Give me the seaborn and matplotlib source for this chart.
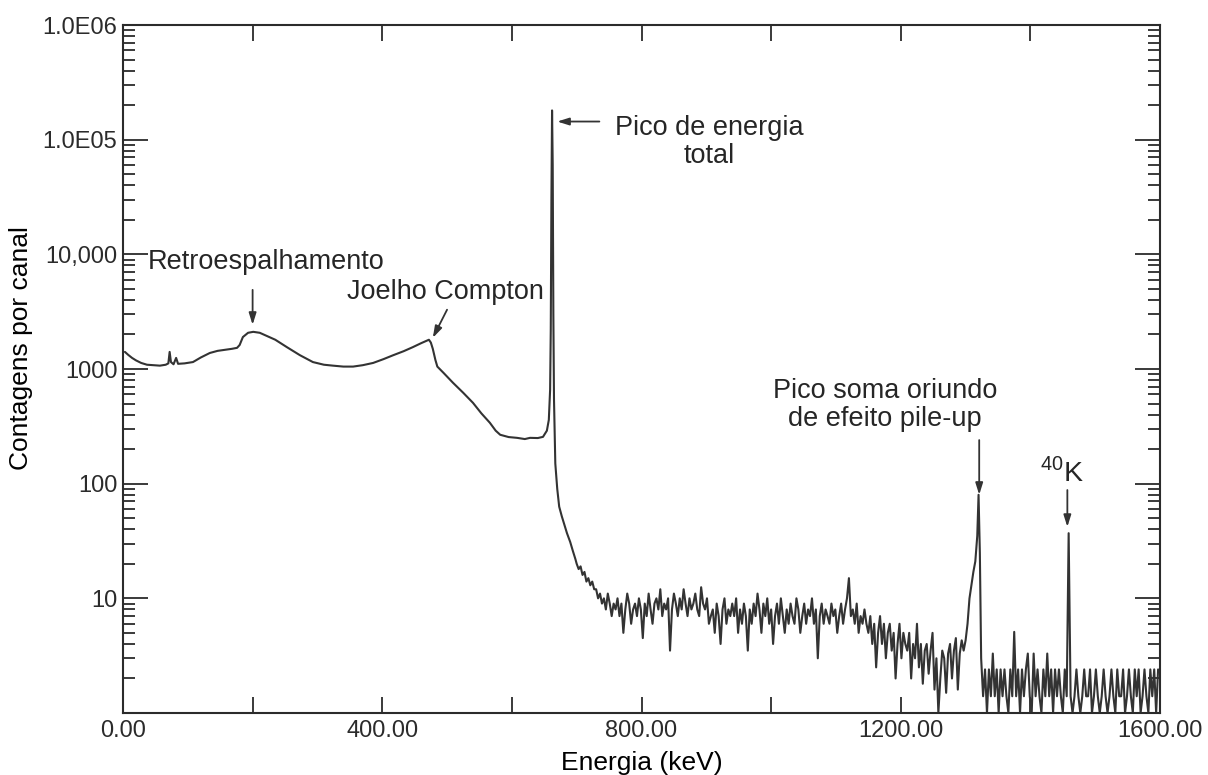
import numpy as np
import pandas as pd
import matplotlib
matplotlib.use("Agg")
import matplotlib.pyplot as plt
import matplotlib.ticker as mticker
import seaborn as sns

# Espectro gama (Cs-137)
# Parte contínua: fundo, retroespalhamento, borda Compton e pico de 662 keV
energia_continuo = [3, 8, 14, 20, 28, 37, 47, 57, 66, 70, 72, 74, 78, 82, 85, 95,
                    108, 120, 134, 146, 157, 168, 176, 180, 185, 193, 201, 211, 222,
                    235, 253, 273, 293, 310, 324, 340, 355, 370, 386, 402, 417, 433,
                    447, 460, 468, 472, 475, 478, 482, 485, 495, 509, 525, 540, 553,
                    566, 575, 582, 595, 608, 620, 628, 640, 648, 654, 657, 659, 660,
                    661, 662, 663, 664, 665, 667, 670, 673, 677, 681, 685, 690, 694, 698]
contagens_continuo = [1410, 1330, 1250, 1190, 1130, 1090, 1080, 1070, 1090, 1120, 1410,
                      1150, 1100, 1250, 1110, 1120, 1150, 1260, 1380, 1440, 1470, 1500,
                      1530, 1620, 1900, 2070, 2110, 2070, 1940, 1800, 1550, 1320, 1150,
                      1090, 1070, 1050, 1050, 1080, 1130, 1220, 1320, 1430, 1550, 1680,
                      1760, 1800, 1700, 1500, 1200, 1050, 920, 760, 620, 507, 410, 340,
                      290, 267, 255, 251, 245, 251, 250, 256, 290, 360, 660, 2200,
                      30000, 180000, 60000, 3000, 540, 150, 90, 63, 52, 44, 37, 31, 26, 22]

# Região ruidosa 700-1297 keV (passo de 3 keV)
contagens_ruido_a = [
    20, 18, 19, 16, 17, 14, 15, 13, 14, 12,
    12, 10, 11, 9, 10, 8, 11, 9, 7, 9,
    8, 10, 7, 9, 5, 8, 11, 9, 6, 8,
    9, 7, 10, 8, 4.5, 9, 7, 11, 8, 6,
    9, 10, 8, 12, 7, 9, 8, 10, 3.5, 8,
    11, 9, 7, 10, 8, 12, 9, 7, 10, 8,
    9, 11, 8, 7, 12.5, 9, 8, 10, 6, 7,
    8, 5, 9, 7, 4, 8, 10, 6, 8, 7,
    9, 7, 10, 5, 8, 6, 9, 7, 3.5, 8,
    6, 9, 7, 11, 8, 5, 9, 7, 10, 6,
    8, 4, 7, 9, 6, 10, 7, 5, 8, 6,
    9, 7, 6, 10, 8, 5, 7, 9, 6, 8,
    7, 10, 6, 8, 3, 7, 9, 6, 8, 7,
    6, 9, 7, 8, 5, 7, 9, 6, 8, 10,
    15, 7, 8, 6, 9, 5, 7, 6, 8, 6,
    5, 7, 4, 6, 2.5, 5, 7, 4, 6, 3,
    5, 6, 3.5, 5, 2, 4, 6, 3, 5, 4,
    3.5, 5, 2, 4, 3, 6, 2.5, 4, 1.8, 3.5,
    4, 2.2, 3.5, 5, 1.6, 3, 1.0, 2, 3.5, 3,
    1.5, 3.3, 4, 2, 3.5, 4.5, 1.6, 3.3, 4.3, 3.5,
]

# Pico soma (pile-up)
energia_soma = [1300, 1303, 1306, 1309, 1312, 1315, 1318, 1320, 1322, 1324]
contagens_soma = [4.3, 6, 10, 13, 17, 21, 35, 80, 25, 3]

# Região 1327-1597 keV (passo de 3 keV), inclui o pico do 40K
contagens_ruido_b = [
    1.4, 2.4, 1.0, 2.4, 1.4, 3.3, 1.4, 2.4, 1.0, 2.4,
    1.4, 2.4, 1.4, 1.0, 2.4, 1.4, 5.1, 1.4, 2.4, 1.0,
    2.4, 1.4, 2.4, 3.3, 1.4, 1.0, 3.3, 1.4, 2.4, 1.4,
    1.0, 2.4, 1.4, 3.3, 1.4, 2.4, 1.0, 2.4, 1.4, 2.4,
    1.4, 1.0, 2.4, 1.4, 37, 1.4, 1.0, 1.4, 2.4, 1.4,
    1.0, 1.4, 2.4, 1.4, 1.4, 2.4, 1.0, 1.4, 2.4, 1.4,
    1.0, 1.4, 2.4, 1.4, 1.0, 1.4, 2.4, 1.4, 1.0, 2.4,
    1.4, 1.4, 2.4, 1.0, 1.4, 2.4, 1.4, 1.0, 2.4, 1.4,
    2.4, 1.0, 1.4, 2.4, 1.4, 1.0, 2.4, 1.4, 2.4, 1.0, 2.4,
]

yticks = [10, 100, 1000, 1e4, 1e5, 1e6]
ytick_labels = ["10", "100", "1000", "10,000", "1.0E05", "1.0E06"]

energia = np.concatenate([energia_continuo,
                          np.arange(700, 700 + 3 * len(contagens_ruido_a), 3),
                          energia_soma,
                          np.arange(1327, 1327 + 3 * len(contagens_ruido_b), 3)])
contagens = np.concatenate([contagens_continuo, contagens_ruido_a,
                            contagens_soma, contagens_ruido_b])
df = pd.DataFrame({"Energia": energia, "Contagens": contagens})

sns.set_style("ticks")
plt.rcParams["font.family"] = ["Liberation Sans", "DejaVu Sans"]
plt.rcParams["mathtext.fontset"] = "custom"
plt.rcParams["mathtext.rm"] = "Liberation Sans"

cor = "#2b2b2b"
fig, ax = plt.subplots(figsize=(12.08, 7.75), dpi=100)
fig.subplots_adjust(left=0.1018, right=0.9603, top=0.9677, bottom=0.08)

sns.lineplot(data=df, x="Energia", y="Contagens", estimator=None, sort=False,
             color="#333333", linewidth=1.5, ax=ax)

ax.set_yscale("log")
ax.set_xlim(0, 1600)
ax.set_ylim(1, 1e6)

ax.xaxis.set_major_locator(mticker.MultipleLocator(400))
ax.xaxis.set_minor_locator(mticker.MultipleLocator(200))
ax.xaxis.set_major_formatter(mticker.FormatStrFormatter("%.2f"))
ax.yaxis.set_major_locator(mticker.FixedLocator(yticks))
ax.yaxis.set_major_formatter(mticker.FixedFormatter(ytick_labels))
ax.yaxis.set_minor_locator(mticker.LogLocator(base=10, subs=np.arange(2, 10)))
ax.yaxis.set_minor_formatter(mticker.NullFormatter())

ax.tick_params(which="both", direction="in", top=True, right=True,
               color=cor, labelcolor=cor, labelsize=17, width=1.3)
ax.tick_params(axis="y", which="major", length=18, pad=4)
ax.tick_params(axis="y", which="minor", length=8.5)
ax.tick_params(axis="x", which="both", length=11.5, pad=5)
for s in ax.spines.values():
    s.set_color(cor)
    s.set_linewidth(1.5)

ax.set_xlabel("Energia (keV)", fontsize=19, color="black")
ax.set_ylabel("Contagens por canal", fontsize=19, color="black")
ax.xaxis.set_label_coords(0.5, -0.055)
ax.yaxis.set_label_coords(-0.087, 0.53)

seta = dict(arrowstyle="-|>,head_length=0.7,head_width=0.22", color="#333333",
            lw=1.3, shrinkA=0, shrinkB=0)
fs = 19.5
ax.annotate("", xy=(200, 2430), xytext=(200, 4900), arrowprops=seta)
ax.text(38, 8600, "Retroespalhamento", fontsize=fs, ha="left", va="center")

ax.annotate("", xy=(478, 1870), xytext=(500, 3290), arrowprops=seta)
ax.text(498, 4720, "Joelho Compton", fontsize=fs, ha="center", va="center")

ax.annotate("", xy=(670, 1.44e5), xytext=(735, 1.44e5), arrowprops=seta)
ax.text(905, 9.6e4, "Pico de energia\ntotal", fontsize=fs, ha="center",
        va="center", multialignment="center", linespacing=1.1)

ax.annotate("", xy=(1321, 80), xytext=(1321, 240), arrowprops=seta)
ax.text(1176, 488, "Pico soma oriundo\nde efeito pile-up", fontsize=fs,
        ha="center", va="center", multialignment="center", linespacing=1.1)

ax.annotate("", xy=(1457, 42), xytext=(1457, 88), arrowprops=seta)
ax.text(1449, 126, r"$^{40}$K", fontsize=fs + 1, ha="center", va="center")

fig.savefig("out.png", dpi=100)
